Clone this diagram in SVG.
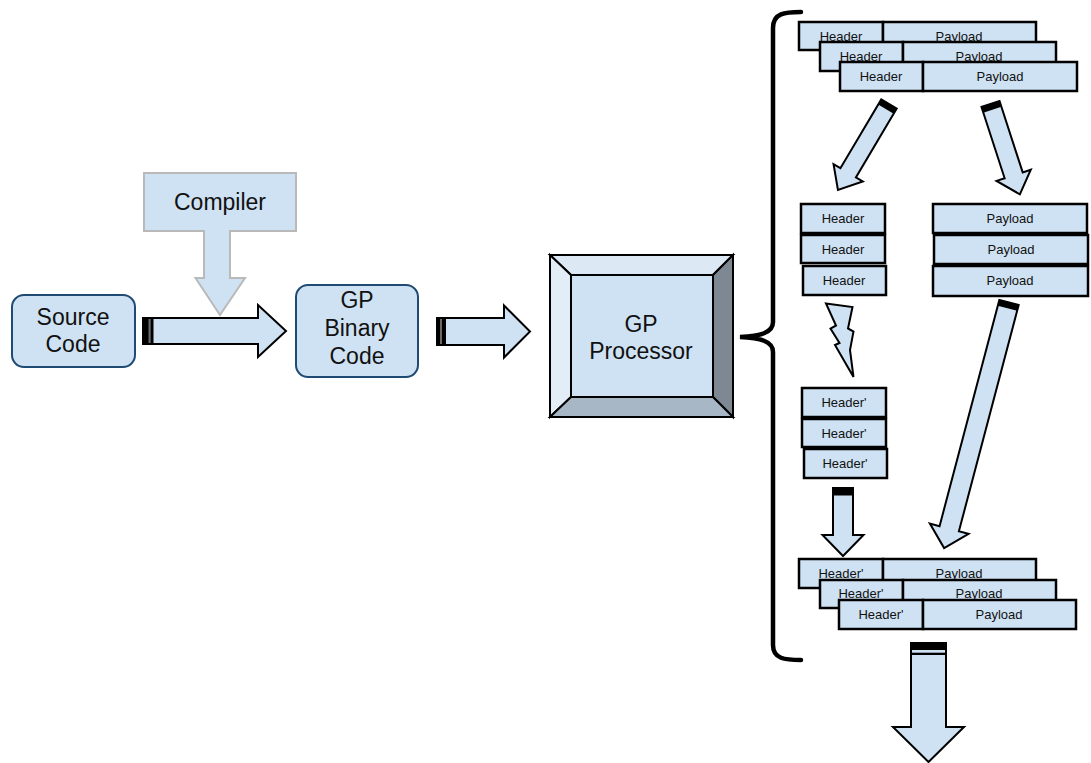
<svg xmlns="http://www.w3.org/2000/svg" width="1091" height="763" viewBox="0 0 1091 763">
  <style>
    text { font-family: "Liberation Sans", Arial, sans-serif; fill: #111; text-anchor: middle; }
    .big { font-size: 23px; }
    .small { font-size: 13px; }
    .rnode { fill: #cfe2f3; stroke: #1f4a73; stroke-width: 2; }
    .cell { fill: #cfe2f3; stroke: #000; stroke-width: 2.5; }
    .arrow { fill: #cfe2f3; stroke: #000; stroke-width: 2; stroke-linejoin: miter; }
    .band { fill: #000; }
    .stripe { fill: #6a6a6a; }
  </style>

  <rect width="1091" height="763" fill="#fff"/>

  <!-- compiler: box with a down-pointing arrow -->
  <g id="compiler">
    <path d="M144,173 H296 V231 H230 V278 H245 L220,315 L195.5,278 H204 V231 H144 Z" fill="#cfe2f3" stroke="#b9b9b9" stroke-width="2"/>
    <text class="big" x="220" y="210">Compiler</text>
  </g>

  <g id="source-code">
    <rect class="rnode" x="12" y="295" width="123" height="72" rx="12"/>
    <text class="big" x="73" y="325">Source</text>
    <text class="big" x="73" y="352">Code</text>
  </g>

  <g id="gp-binary-code">
    <rect class="rnode" x="296" y="285" width="122" height="92" rx="12"/>
    <text class="big" x="357" y="308">GP</text>
    <text class="big" x="357" y="336">Binary</text>
    <text class="big" x="357" y="364">Code</text>
  </g>

  <!-- processor drawn as a bevelled block -->
  <g id="gp-processor" stroke="#000" stroke-width="2" stroke-linejoin="miter">
    <polygon points="550,255 733,255 713,275 571,275" fill="#dce8f4"/>
    <polygon points="550,255 571,275 571,397 550,417" fill="#e3edf7"/>
    <polygon points="733,255 733,417 713,397 713,275" fill="#7e8892"/>
    <polygon points="550,417 571,397 713,397 733,417" fill="#a8b7c5"/>
    <rect x="571" y="275" width="142" height="122" fill="#cfe2f3"/>
    <text class="big" x="641" y="332" stroke="none">GP</text>
    <text class="big" x="641" y="359" stroke="none">Processor</text>
  </g>

  <!-- incoming packets -->
  <g id="packets-in">
    <rect class="cell" x="799" y="22" width="84" height="28"/>
    <text class="small" x="841" y="41">Header</text>
    <rect class="cell" x="883" y="22" width="153" height="28"/>
    <text class="small" x="959" y="41">Payload</text>
    <rect class="cell" x="820" y="42" width="83" height="29"/>
    <text class="small" x="861" y="61">Header</text>
    <rect class="cell" x="903" y="42" width="153" height="29"/>
    <text class="small" x="979" y="61">Payload</text>
    <rect class="cell" x="840" y="62" width="83" height="29"/>
    <text class="small" x="881" y="81">Header</text>
    <rect class="cell" x="923" y="62" width="154" height="29"/>
    <text class="small" x="1000" y="81">Payload</text>
  </g>

  <g id="headers">
    <rect class="cell" x="801" y="204" width="84" height="29"/>
    <text class="small" x="843" y="223">Header</text>
    <rect class="cell" x="801" y="235" width="84" height="28"/>
    <text class="small" x="843" y="254">Header</text>
    <rect class="cell" x="803" y="266" width="83" height="29"/>
    <text class="small" x="844" y="285">Header</text>
  </g>

  <g id="payloads">
    <rect class="cell" x="933" y="204" width="154" height="29"/>
    <text class="small" x="1010" y="223">Payload</text>
    <rect class="cell" x="934" y="235" width="154" height="29"/>
    <text class="small" x="1011" y="254">Payload</text>
    <rect class="cell" x="933" y="266" width="155" height="30"/>
    <text class="small" x="1010" y="285">Payload</text>
  </g>

  <g id="modified-headers">
    <rect class="cell" x="802" y="388" width="84" height="29"/>
    <text class="small" x="844" y="407">Header'</text>
    <rect class="cell" x="802" y="419" width="84" height="28"/>
    <text class="small" x="844" y="438">Header'</text>
    <rect class="cell" x="804" y="449" width="83" height="29"/>
    <text class="small" x="845" y="468">Header'</text>
  </g>

  <!-- reassembled packets -->
  <g id="packets-out">
    <rect class="cell" x="799" y="559" width="84" height="29"/>
    <text class="small" x="841" y="578">Header'</text>
    <rect class="cell" x="883" y="559" width="153" height="29"/>
    <text class="small" x="959" y="578">Payload</text>
    <rect class="cell" x="820" y="580" width="83" height="28"/>
    <text class="small" x="861" y="598">Header'</text>
    <rect class="cell" x="903" y="580" width="153" height="28"/>
    <text class="small" x="979" y="598">Payload</text>
    <rect class="cell" x="839" y="600" width="84" height="29"/>
    <text class="small" x="881" y="619">Header'</text>
    <rect class="cell" x="923" y="600" width="153" height="29"/>
    <text class="small" x="999" y="619">Payload</text>
  </g>

  <g id="connectors">
    <!-- source -> binary -->
    <g transform="translate(143,331)">
      <path class="arrow" d="M0,-13 H115 V-26 L143,0 L115,26 V13 H0 Z"/>
      <rect class="band" x="0" y="-13" width="10.5" height="26"/>
      <rect class="stripe" x="5.5" y="-12" width="2.2" height="24"/>
    </g>
    <!-- binary -> processor -->
    <g transform="translate(437,331.5)">
      <path class="arrow" d="M0,-13.5 H67 V-26 L93,0 L67,26 V13.5 H0 Z"/>
      <rect class="band" x="0" y="-13.5" width="9" height="27"/>
      <rect class="stripe" x="3" y="-12.5" width="2" height="25"/>
    </g>

    <!-- brace -->
    <path d="M801,12 C785,12 773,13 773,28 L773,322 C773,333 760,336 740,337 C760,338 773,341 773,352 L773,645 C773,659 785,660 801,660" fill="none" stroke="#000" stroke-width="4.5" stroke-linecap="round"/>

    <!-- split: headers -->
    <g transform="translate(889,104) rotate(120.7)">
      <path class="arrow" d="M0,-9 H80 V-17 L100,0 L80,17 V9 H0 Z"/>
      <rect class="band" x="0" y="-9" width="6" height="18"/>
    </g>
    <!-- split: payloads -->
    <g transform="translate(990.5,104) rotate(72)">
      <path class="arrow" d="M0,-9.5 H75 V-18 L95,0 L75,18 V9.5 H0 Z"/>
      <rect class="band" x="0" y="-9.5" width="6" height="19"/>
    </g>

    <!-- header transform -->
    <path class="arrow" d="M826,303.5 L852.5,307 L848,328.5 L853.5,331.5 L850,350 L853.5,377 L835,345 L839.5,343 L830.5,328.5 L836,325.5 Z"/>

    <!-- payloads -> reassembly -->
    <g transform="translate(1009,302.5) rotate(104.8)">
      <path class="arrow" d="M0,-10 H234 V-20 L254,0 L234,20 V10 H0 Z"/>
      <rect class="band" x="0" y="-10" width="6" height="20"/>
    </g>
    <!-- headers' -> reassembly -->
    <g transform="translate(843,488) rotate(90)">
      <path class="arrow" d="M0,-10 H47 V-20.5 L68,0 L47,20.5 V10 H0 Z"/>
      <rect class="band" x="0" y="-10" width="7.5" height="20"/>
    </g>
    <!-- output -->
    <g transform="translate(928.5,643) rotate(90)">
      <path class="arrow" d="M0,-17.5 H84 V-35.5 L119,0 L84,35.5 V17.5 H0 Z"/>
      <rect class="band" x="0" y="-17.5" width="12" height="35"/>
      <rect x="7" y="-16.5" width="2.7" height="33" fill="#cfe2f3"/>
    </g>
  </g>
</svg>
